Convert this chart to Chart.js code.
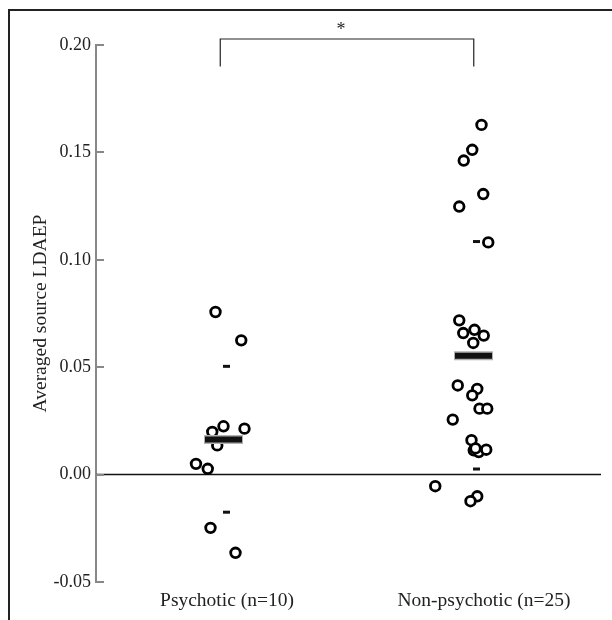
<!DOCTYPE html>
<html>
<head>
<meta charset="utf-8">
<script src="https://cdn.jsdelivr.net/npm/chart.js@4/dist/chart.umd.min.js"></script>
<style>
  body { margin: 0; background: #fff; }
  #wrap { width: 612px; height: 620px; }
</style>
</head>
<body>
<div id="wrap"><canvas id="plot"></canvas></div>
<script>
// groups on the x axis (1 = Psychotic, 2 = Non-psychotic)
const groups = ['Psychotic (n=10)', 'Non-psychotic (n=25)'];
const groupLabelPos = [1.014, 2.042];
const yTicks = [-0.05, 0.00, 0.05, 0.10, 0.15, 0.20];

// individual subjects: value + horizontal jitter (in group units)
const psychoticY = [0.0757, 0.0625, 0.0225, 0.0199, 0.0214, 0.0136, 0.0050, 0.0027, -0.0248, -0.0364];
const psychoticJitter = [-0.032, 0.071, 0.000, -0.045, 0.084, -0.025, -0.110, -0.063, -0.052, 0.048];

const nonPsychoticY = [0.1628, 0.1512, 0.1462, 0.1306, 0.1248, 0.1081, 0.0718, 0.0659, 0.0674, 0.0647,
  0.0613, 0.0415, 0.0399, 0.0369, 0.0307, 0.0307, 0.0256, 0.0160, 0.0113, 0.0105,
  0.0116, 0.0122, -0.0054, -0.0101, -0.0124];
const nonPsychoticJitter = [0.032, -0.005, -0.039, 0.039, -0.057, 0.059, -0.057, -0.041, 0.004, 0.041,
  -0.001, -0.063, 0.015, -0.005, 0.024, 0.055, -0.083, -0.008, 0.001, 0.021,
  0.051, 0.008, -0.153, 0.015, -0.012];

// group means and mean +/- SD markers
const means = [0.0163, 0.0553];
const sdUpper = [0.0504, 0.1085];
const sdLower = [-0.0175, 0.0026];
const sdJitter = [0.012, 0.012];

const pts = (ys, jit, g) => ys.map((y, i) => ({ x: g + jit[i], y: y }));

const extras = {
  id: 'extras',
  beforeDatasetsDraw(chart) {
    const { ctx, scales: { x, y } } = chart;
    ctx.save();
    // zero line
    ctx.strokeStyle = '#111';
    ctx.lineWidth = 1.5;
    ctx.beginPath();
    ctx.moveTo(x.left, y.getPixelForValue(0));
    ctx.lineTo(x.right, y.getPixelForValue(0));
    ctx.stroke();
    ctx.restore();
  },
  afterDraw(chart) {
    const { ctx, scales: { x, y } } = chart;
    ctx.save();
    // inward tick marks
    ctx.strokeStyle = '#888';
    ctx.lineWidth = 2;
    yTicks.forEach(t => {
      const py = Math.round(y.getPixelForValue(t));
      ctx.beginPath();
      ctx.moveTo(x.left, py);
      ctx.lineTo(x.left + 8, py);
      ctx.stroke();
    });
    // significance bracket
    const bl = x.getPixelForValue(0.987), br = x.getPixelForValue(2.001);
    const bt = y.getPixelForValue(0.2028), bb = y.getPixelForValue(0.19);
    ctx.strokeStyle = '#222';
    ctx.lineWidth = 1.2;
    ctx.beginPath();
    ctx.moveTo(bl, bb); ctx.lineTo(bl, bt); ctx.lineTo(br, bt); ctx.lineTo(br, bb);
    ctx.stroke();
    ctx.fillStyle = '#222';
    ctx.font = '18px "Liberation Serif"';
    ctx.textAlign = 'center';
    ctx.fillText('*', x.getPixelForValue(1.47), bt - 4);
    // outer frame (top and left)
    ctx.strokeStyle = '#222';
    ctx.lineWidth = 2;
    ctx.beginPath();
    ctx.moveTo(9, 620); ctx.lineTo(9, 10); ctx.lineTo(612, 10);
    ctx.stroke();
    ctx.restore();
  }
};

new Chart(document.getElementById('plot'), {
  type: 'scatter',
  data: {
    datasets: [
      {
        data: pts(psychoticY, psychoticJitter, 1), order: 4,
        pointStyle: 'circle', pointRadius: 4.8, borderWidth: 2.8,
        borderColor: '#000', backgroundColor: '#fff'
      },
      {
        data: pts(nonPsychoticY, nonPsychoticJitter, 2), order: 4,
        pointStyle: 'circle', pointRadius: 4.8, borderWidth: 2.8,
        borderColor: '#000', backgroundColor: '#fff'
      },
      {
        data: means.map((m, i) => ({ x: i + 1, y: m })), order: 3,
        pointStyle: 'line', pointRadius: 19.5, borderWidth: 9,
        borderColor: '#b0b0b0'
      },
      {
        data: means.map((m, i) => ({ x: i + 1, y: m })), order: 2,
        pointStyle: 'line', pointRadius: 18.5, borderWidth: 6,
        borderColor: '#111'
      },
      {
        data: sdUpper.concat(sdLower).map((v, i) => ({ x: (i % 2) + 1 + sdJitter[i % 2], y: v })), order: 1,
        pointStyle: 'line', pointRadius: 3.5, borderWidth: 3,
        borderColor: '#111'
      }
    ]
  },
  options: {
    responsive: true,
    maintainAspectRatio: false,
    animation: false,
    layout: { autoPadding: false, padding: { top: 45, right: 11, left: 0, bottom: 0 } },
    plugins: { legend: { display: false }, tooltip: { enabled: false } },
    scales: {
      x: {
        type: 'linear', min: 0.49, max: 2.51,
        afterBuildTicks: s => { s.ticks = groupLabelPos.map(v => ({ value: v })); },
        afterFit: s => { s.height = 38; s.paddingLeft = 0; s.paddingRight = 0; },
        ticks: {
          callback: (v, i) => groups[i],
          color: '#222', padding: 7, maxRotation: 0, autoSkip: false,
          font: { family: 'Liberation Serif', size: 19.5 }
        },
        grid: { display: false, drawTicks: false },
        border: { display: false }
      },
      y: {
        min: -0.05, max: 0.20,
        afterBuildTicks: s => { s.ticks = yTicks.map(v => ({ value: v })); },
        afterFit: s => { s.width = 96; },
        ticks: {
          callback: v => v.toFixed(2),
          color: '#222', padding: 5,
          font: { family: 'Liberation Serif', size: 18 }
        },
        title: {
          display: true, text: 'Averaged source LDAEP', color: '#222',
          font: { family: 'Liberation Serif', size: 19.5 }, padding: { top: 29, bottom: 0 }
        },
        grid: { display: false, drawTicks: false },
        border: { display: true, color: '#888', width: 2 }
      }
    }
  },
  plugins: [extras]
});
</script>
</body>
</html>
